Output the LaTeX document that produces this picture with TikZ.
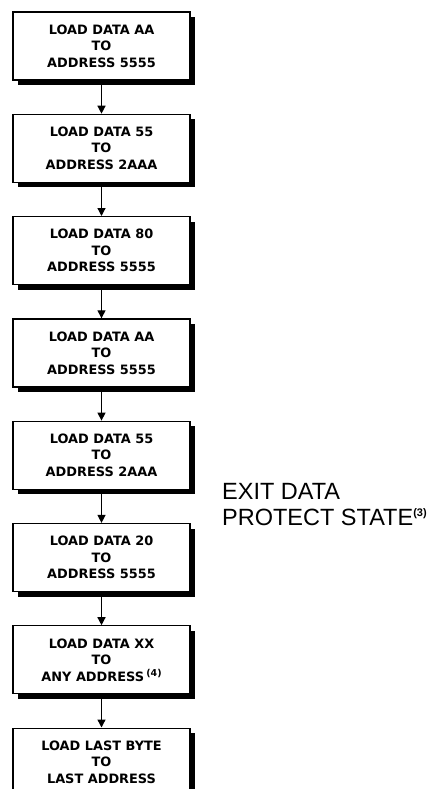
\documentclass[tikz,border=0pt]{standalone}
\usepackage{fontspec}
\setmainfont{Liberation Sans}
\newfontfamily\boxfont{DejaVu Sans}
\usetikzlibrary{positioning,shadows,arrows.meta}

\begin{document}
\begin{tikzpicture}[x=1pt, y=1pt, node distance=33.1pt,
	stepbox/.style={draw, line width=1.2pt, fill=white, minimum width=177pt, minimum height=68pt, inner sep=0pt, align=center,
		font=\boxfont\bfseries\fontsize{12.9}{16.5}\selectfont,
		drop shadow={shadow xshift=5pt, shadow yshift=-5pt, fill=black, opacity=1}},
	flow/.style={line width=1.3pt, -{Triangle[length=8pt, width=8pt]}}]
	\useasboundingbox (0,0) rectangle (443,-789);
	
	\node[stepbox] (s1) at (101.5,-46) {LOAD DATA AA\\TO\\ADDRESS 5555};
	\node[stepbox, below=of s1] (s2) {LOAD DATA 55\\TO\\ADDRESS 2AAA};
	\node[stepbox, below=of s2] (s3) {LOAD DATA 80\\TO\\ADDRESS 5555};
	\node[stepbox, below=of s3] (s4) {LOAD DATA AA\\TO\\ADDRESS 5555};
	\node[stepbox, below=of s4] (s5) {LOAD DATA 55\\TO\\ADDRESS 2AAA};
	\node[stepbox, below=of s5] (s6) {LOAD DATA 20\\TO\\ADDRESS 5555};
	\node[stepbox, below=of s6] (s7) {LOAD DATA XX\\TO\\ANY ADDRESS\,\raisebox{4.5pt}{\fontsize{9.5}{9.5}\selectfont(4)}};
	\node[stepbox, below=of s7] (s8) {LOAD LAST BYTE\\TO\\LAST ADDRESS};
	
	\node[font=\fontsize{23.5}{26}\selectfont, align=left, anchor=west, inner sep=0pt] (exit) at (222,-505)
		{EXIT DATA\\PROTECT STATE\raisebox{9.5pt}{\fontsize{11}{11}\selectfont\bfseries(3)}};
	
	\foreach \a/\b in {s1/s2, s2/s3, s3/s4, s4/s5, s5/s6, s6/s7, s7/s8}
		\draw[flow] (\a) -- (\b);
\end{tikzpicture}
\end{document}
